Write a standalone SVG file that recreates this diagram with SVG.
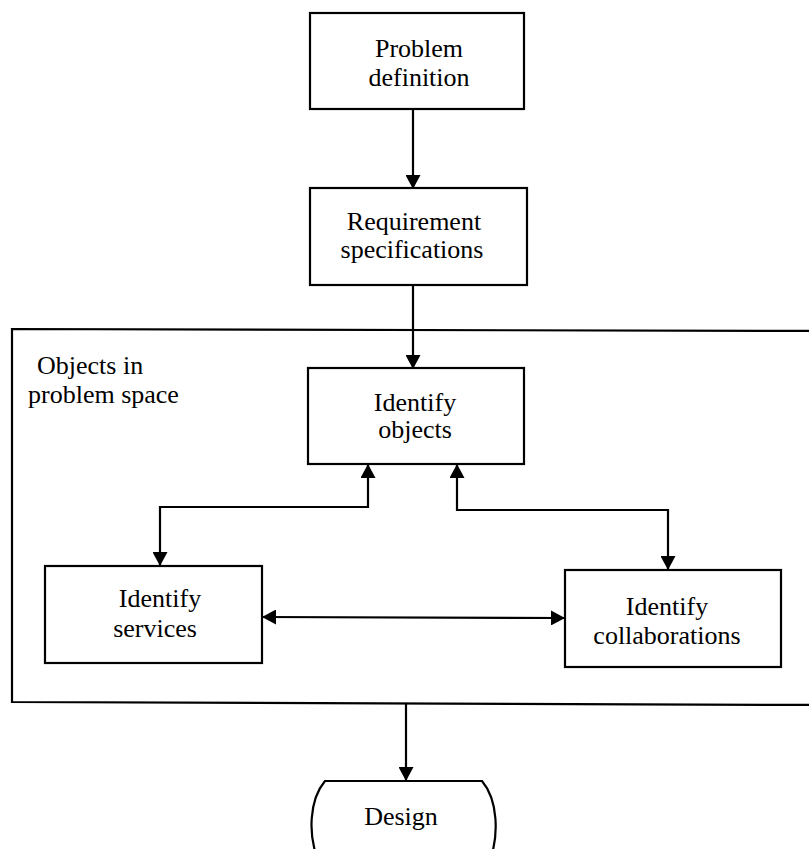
<svg xmlns="http://www.w3.org/2000/svg" width="809" height="849" viewBox="0 0 809 849">
  <style>
    .box { fill: #fff; stroke: #000; stroke-width: 2.2; }
    .frame { fill: none; stroke: #000; stroke-width: 2.2; }
    .edge { fill: none; stroke: #000; stroke-width: 2.2; }
    .label { font-family: "Liberation Serif", "Times New Roman", serif; font-size: 26px; fill: #000; text-anchor: middle; }
    .note { font-family: "Liberation Serif", "Times New Roman", serif; font-size: 26px; fill: #000; }
  </style>
  <defs>
    <marker id="arrow" viewBox="0 0 14 15" refX="13" refY="7.5" markerWidth="14" markerHeight="15" markerUnits="userSpaceOnUse" orient="auto-start-reverse">
      <path d="M0,0 L14,7.5 L0,15 Z" fill="#000"/>
    </marker>
  </defs>

  <rect width="809" height="849" fill="#fff"/>

  <!-- enclosing region: objects in problem space -->
  <g id="problem-space">
    <path class="frame" d="M820,331 L12,329 L12,702 L820,705"/>
    <text class="note" x="37" y="374">Objects in</text>
    <text class="note" x="28" y="403">problem space</text>
  </g>

  <g id="problem-definition">
    <rect class="box" x="310" y="13" width="214" height="96"/>
    <text class="label" x="419" y="57">Problem</text>
    <text class="label" x="419" y="86">definition</text>
  </g>

  <g id="requirement-specifications">
    <rect class="box" x="310" y="188" width="217" height="97"/>
    <text class="label" x="414" y="230">Requirement</text>
    <text class="label" x="412" y="258">specifications</text>
  </g>

  <g id="identify-objects">
    <rect class="box" x="308" y="368" width="216" height="96"/>
    <text class="label" x="415" y="411">Identify</text>
    <text class="label" x="415" y="438">objects</text>
  </g>

  <g id="identify-services">
    <rect class="box" x="45" y="566" width="217" height="97"/>
    <text class="label" x="160" y="607">Identify</text>
    <text class="label" x="155" y="637">services</text>
  </g>

  <g id="identify-collaborations">
    <rect class="box" x="565" y="570" width="216" height="97"/>
    <text class="label" x="667" y="615">Identify</text>
    <text class="label" x="667" y="644">collaborations</text>
  </g>

  <g id="design">
    <path class="box" d="M318,860 C308,835 309,800 325,781 L482,781 C498,800 499,835 490,860"/>
    <text class="label" x="401" y="825">Design</text>
  </g>

  <g id="connectors">
    <path class="edge" d="M413,109 L413,188" marker-end="url(#arrow)"/>
    <path class="edge" d="M413,285 L413,368" marker-end="url(#arrow)"/>
    <path class="edge" d="M160,565 L160,507 L368,507 L368,465" marker-start="url(#arrow)" marker-end="url(#arrow)"/>
    <path class="edge" d="M457,465 L457,510 L668,510 L668,569" marker-start="url(#arrow)" marker-end="url(#arrow)"/>
    <path class="edge" d="M263,617 L564,618" marker-start="url(#arrow)" marker-end="url(#arrow)"/>
    <path class="edge" d="M406,703 L406,780" marker-end="url(#arrow)"/>
  </g>
</svg>
